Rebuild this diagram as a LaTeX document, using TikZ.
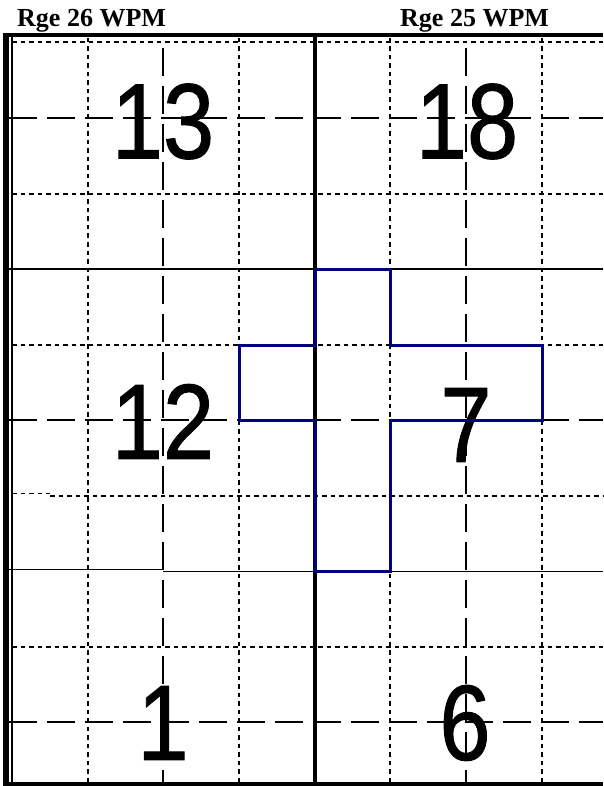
\documentclass[tikz,border=0pt]{standalone}
\usepackage{fontspec}
\setmainfont{Liberation Serif}
\newfontfamily\numfont[FakeBold=1]{Liberation Sans}
\definecolor{platblue}{RGB}{0,0,128}
\newcommand{\narrownum}[1]{\scalebox{0.86}[1]{#1}}
\begin{document}
\begin{tikzpicture}[x=1pt,y=-1pt,
  dotline/.style={line width=1.2pt, dash pattern=on 4.5pt off 4pt},
  longdash/.style={line width=1.2pt, dash pattern=on 28pt off 10pt},
  secline/.style={line width=1.3pt},
  border/.style={line width=4pt},
  plat/.style={draw=platblue, line width=3pt, line join=miter},
  num/.style={font=\numfont\fontsize{107}{107}\selectfont, inner sep=0pt},
  hdr/.style={font=\bfseries\fontsize{26}{26}\selectfont, inner sep=0pt}]
\useasboundingbox (0,0) rectangle (603,786);
\fill[white] (0,0) rectangle (603,786);
% headers
\node[hdr, anchor=base west] (h26) at (17,27) {Rge 26 WPM};
\node[hdr, anchor=base west] (h25) at (400,27) {Rge 25 WPM};
% section numbers
\node[num] (s13) at (163,121.5) {\narrownum{13}};
\node[num] (s18) at (467,121.5) {\narrownum{18}};
\node[num] (s12) at (163,421.5) {\narrownum{12}};
\node[num] (s7)  at (466,425) {\narrownum{7}};
\node[num] (s1)  at (163,723) {\narrownum{1}};
\node[num] (s6)  at (465,723) {\narrownum{6}};
% vertical grid lines
\draw[dotline]  (88,38)  -- (88,782);
\draw[longdash] (163,48) -- (163,782);
\draw[dotline]  (239,38) -- (239,782);
\draw[dotline]  (390,38) -- (390,782);
\draw[longdash] (466,48) -- (466,782);
\draw[dotline]  (542,38) -- (542,782);
\draw[line width=1.1pt] (12,37) -- (12,782);
% horizontal grid lines
\draw[dotline]  (12,42)  -- (603,42);
\draw[longdash] (9,118)  -- (603,118);
\draw[dotline]  (12,194) -- (603,194);
\draw[secline]  (8,269)  -- (603,269);
\draw[dotline]  (12,345) -- (603,345);
\draw[longdash] (9,420)  -- (603,420);
\draw[dotline]  (12,493.5) -- (50,493.5);
\draw[dotline]  (50,496) -- (603,496);
\draw[secline]  (8,569.5) -- (163,569.5);
\draw[secline]  (163,571.5) -- (603,571.5);
\draw[dotline]  (12,647) -- (603,647);
\draw[longdash] (9,722)  -- (603,722);
% heavy borders
\draw[line width=6pt] (6,33) -- (6,786);
\draw[border] (3,35) -- (603,35);
\draw[border] (3,784) -- (603,784);
\draw[border] (315,35) -- (315,784);
% outlined parcel
\draw[plat] (315,269) -- (390,269) -- (390,345) -- (542,345) -- (542,420)
  -- (390,420) -- (390,571) -- (315,571) -- (315,420) -- (239,420)
  -- (239,345) -- (315,345) -- cycle;
\end{tikzpicture}
\end{document}
